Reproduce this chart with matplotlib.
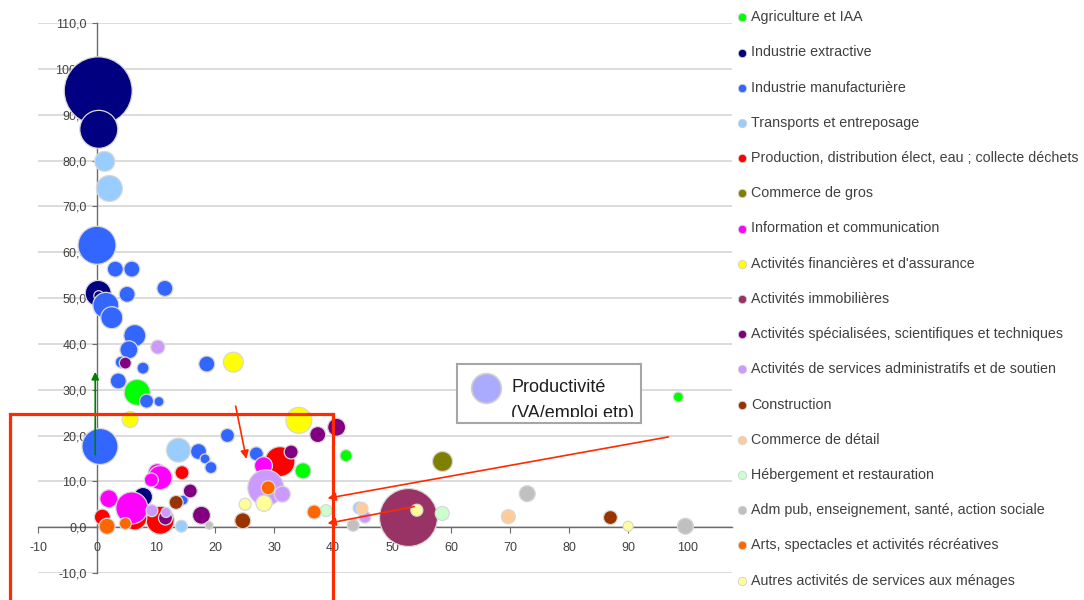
import matplotlib
matplotlib.use('Agg')
import matplotlib.pyplot as plt
from matplotlib.lines import Line2D
from matplotlib.patches import Rectangle

plt.rcParams['font.family'] = ['Liberation Sans', 'DejaVu Sans']

# Secteurs (ordre de la légende)
secteurs = [
    "Agriculture et IAA",
    "Industrie extractive",
    "Industrie manufacturière",
    "Transports et entreposage",
    "Production, distribution élect, eau ; collecte déchets",
    "Commerce de gros",
    "Information et communication",
    "Activités financières et d'assurance",
    "Activités immobilières",
    "Activités spécialisées, scientifiques et techniques",
    "Activités de services administratifs et de soutien",
    "Construction",
    "Commerce de détail",
    "Hébergement et restauration",
    "Adm pub, enseignement, santé, action sociale",
    "Arts, spectacles et activités récréatives",
    "Autres activités de services aux ménages",
]

# x, y et poids (taille des bulles) pour chaque secteur
x_agri = [6.8, 34.9, 42.2, 98.5]
y_agri = [29.4, 12.3, 15.6, 28.4]
w_agri = [169, 64, 36, 25]

x_extr = [0.2, 0.3, 0.2, 0.3, 7.8]
y_extr = [95.2, 86.8, 51.0, 50.5, 6.6]
w_extr = [1156, 361, 169, 25, 90]

x_manu = [0.0, 3.1, 5.9, 11.5, 5.1, 1.5, 2.5, 6.4, 5.4, 4.1, 7.8, 18.6, 3.6,
          8.4, 10.5, 0.5, 22.1, 17.2, 18.3, 19.3, 27.0, 14.6]
y_manu = [61.5, 56.3, 56.3, 52.1, 50.8, 48.4, 45.7, 41.8, 38.7, 36.0, 34.7, 35.6, 31.9,
          27.5, 27.4, 17.6, 20.0, 16.5, 14.9, 13.0, 16.0, 5.9]
w_manu = [361, 64, 64, 64, 64, 169, 121, 121, 81, 36, 36, 64, 64,
          49, 25, 324, 49, 64, 25, 36, 49, 25]

x_trans = [1.3, 2.1, 13.8, 14.3, 44.4]
y_trans = [79.8, 73.9, 16.8, 0.2, 4.2]
w_trans = [100, 169, 144, 36, 36]

x_prod = [14.4, 31.0, 10.7, 6.4, 0.9]
y_prod = [11.9, 14.3, 1.5, 2.0, 2.2]
w_prod = [49, 225, 196, 144, 64]

x_gros = [58.5]
y_gros = [14.5]
w_gros = [100]

x_info = [2.0, 5.9, 10.2, 10.7, 9.2, 28.2]
y_info = [6.2, 4.2, 11.9, 10.8, 10.3, 13.4]
w_info = [81, 256, 81, 144, 49, 81]

x_fin = [23.1, 5.6, 34.2]
y_fin = [36.0, 23.5, 23.3]
w_fin = [100, 64, 169]

x_immo = [52.7]
y_immo = [2.2]
w_immo = [841]

x_spec = [4.8, 37.4, 40.6, 32.9, 15.8, 17.7, 11.6]
y_spec = [35.8, 20.2, 21.8, 16.4, 7.9, 2.6, 2.0]
w_spec = [36, 64, 81, 49, 49, 81, 49]

x_admin = [10.3, 28.6, 31.4, 9.3, 11.7, 45.4]
y_admin = [39.3, 8.6, 7.2, 3.6, 3.2, 2.2]
w_admin = [49, 324, 64, 36, 25, 36]

x_constr = [13.4, 24.7, 87.0]
y_constr = [5.4, 1.4, 2.1]
w_constr = [49, 64, 49]

x_detail = [44.9, 69.7]
y_detail = [4.1, 2.3]
w_detail = [36, 49]

x_heberg = [38.8, 58.5]
y_heberg = [3.6, 3.0]
w_heberg = [36, 49]

x_admpub = [19.0, 43.4, 72.9, 99.7]
y_admpub = [0.4, 0.4, 7.3, 0.2]
w_admpub = [16, 36, 64, 64]

x_arts = [1.7, 4.8, 29.0, 36.8]
y_arts = [0.2, 0.8, 8.6, 3.3]
w_arts = [64, 36, 49, 49]

x_autres = [25.1, 28.3, 54.2, 90.0]
y_autres = [5.0, 5.2, 3.7, 0.2]
w_autres = [36, 64, 36, 25]

couleurs = ['#00ff00', '#000080', '#3366ff', '#99ccff', '#ff0000', '#808000',
            '#ff00ff', '#ffff00', '#993366', '#800080', '#cc99ff', '#993300',
            '#ffcc99', '#ccffcc', '#c0c0c0', '#ff6600', '#ffff99']

series = [
    (x_agri, y_agri, w_agri), (x_extr, y_extr, w_extr), (x_manu, y_manu, w_manu),
    (x_trans, y_trans, w_trans), (x_prod, y_prod, w_prod), (x_gros, y_gros, w_gros),
    (x_info, y_info, w_info), (x_fin, y_fin, w_fin), (x_immo, y_immo, w_immo),
    (x_spec, y_spec, w_spec), (x_admin, y_admin, w_admin), (x_constr, y_constr, w_constr),
    (x_detail, y_detail, w_detail), (x_heberg, y_heberg, w_heberg),
    (x_admpub, y_admpub, w_admpub), (x_arts, y_arts, w_arts), (x_autres, y_autres, w_autres),
]

W, H = 1084, 600
fig = plt.figure(figsize=(W / 100, H / 100), dpi=100)
ax = fig.add_axes([38 / W, 27 / H, 694 / W, 550 / H])
ax.set_xlim(-10, 107.6)
ax.set_ylim(-10, 110)

# gridlines under the bubbles
for v in range(-10, 111, 10):
    ax.axhline(v, color='#d9d9d9', lw=1.3, zorder=0.3)

bulle = 2.07  # px^2 -> pt^2 at 100 dpi
for (xs, ys, ws), c in zip(series, couleurs):
    ax.scatter(xs, ys, s=[w * bulle for w in ws], color=c,
               edgecolors='#d8d8d8', linewidths=0.9, zorder=2)

# axes through the origin
for side in ['top', 'right']:
    ax.spines[side].set_visible(False)
ax.spines['left'].set_position(('data', 0))
ax.spines['bottom'].set_position(('data', 0))
for side in ['left', 'bottom']:
    ax.spines[side].set_color('#6b6b6b')
    ax.spines[side].set_linewidth(1.0)
    ax.spines[side].set_zorder(0.5)

yt = list(range(-10, 111, 10))
ax.set_yticks(yt)
ax.set_yticklabels([f"{v:.1f}".replace('.', ',') for v in yt])
xt = list(range(-10, 101, 10))
ax.set_xticks(xt)
ax.set_xticklabels([str(v) for v in xt])
ax.tick_params(axis='y', direction='out', length=3.5, pad=4, color='#6b6b6b',
               labelsize=9, labelcolor='#404040')
ax.tick_params(axis='x', direction='out', length=4, pad=7, color='#6b6b6b',
               labelsize=9, labelcolor='#404040')

# annotations
ax.annotate('', xy=(-0.3, 34.5), xytext=(-0.3, 15.2),
            arrowprops=dict(arrowstyle='-|>', color='#008000', lw=1.2, mutation_scale=11),
            zorder=3)
fleche = dict(arrowstyle='-|>', color='#ff2a00', lw=1.2, mutation_scale=12)
ax.annotate('', xy=(25.4, 14.3), xytext=(23.4, 27.0), arrowprops=fleche, zorder=3)
ax.annotate('', xy=(38.6, 6.2), xytext=(97.3, 19.8), arrowprops=fleche, zorder=3)
ax.annotate('', xy=(38.6, 0.7), xytext=(54.2, 4.6), arrowprops=fleche, zorder=3)

cadre = Rectangle((-14.7, -25), 54.7, 49.6, fill=False, edgecolor='#ff2a00',
                  lw=2.3, clip_on=False, zorder=3)
ax.add_patch(cadre)

# encadré "Productivité"
box = fig.add_axes([457 / W, 1 - 423 / H, 184 / W, 59 / H])
box.set_xlim(0, 1)
box.set_ylim(0, 1)
box.set_xticks([])
box.set_yticks([])
for s in box.spines.values():
    s.set_color('#a6a6a6')
    s.set_linewidth(1.5)
box.scatter([0.158], [0.59], s=460, color='#aaaaff', edgecolors='#d0d0d0', linewidths=1.2)
txt = box.text(0.295, 0.74, "Productivité\n(VA/emploi etp)", fontsize=13, color='#1e1e1e',
               va='top', ha='left', linespacing=1.68)
txt.set_clip_path(Rectangle((0, 0.1), 1, 0.9, transform=box.transAxes))
txt.set_clip_on(True)

# légende à droite
for i, (nom, c) in enumerate(zip(secteurs, couleurs)):
    yy = 1 - (17.3 + 35.2 * i) / H
    fig.add_artist(Line2D([742 / W], [yy], transform=fig.transFigure, marker='o',
                          markersize=6, color=c, markeredgecolor='#d0d0d0',
                          markeredgewidth=0.6, linestyle='none'))
    fig.text(751 / W, yy, nom, fontsize=10.3, color='#404040', va='center', ha='left')

fig.savefig('out.png', dpi=100)
